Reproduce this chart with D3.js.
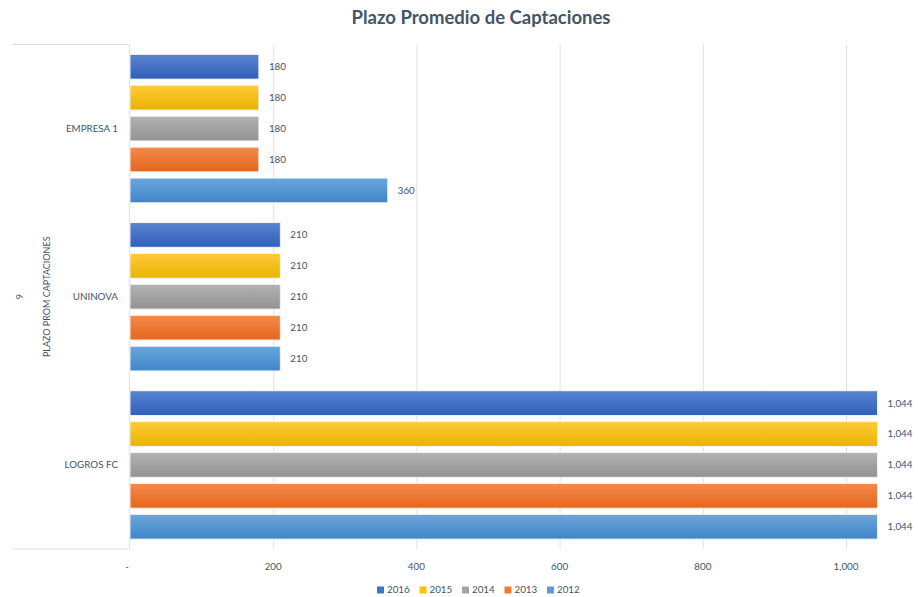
<!DOCTYPE html>
<html><head><meta charset="utf-8">
<script src="https://cdn.jsdelivr.net/npm/d3@7/dist/d3.min.js"></script>
<style>body{margin:0;background:#fff}svg{display:block}text{font-family:Lato,"Open Sans",sans-serif}</style>
</head><body>
<script>
const categories = ["EMPRESA 1", "UNINOVA", "LOGROS FC"];
const series = ["2016", "2015", "2014", "2013", "2012"];
const values = {
  "2016": [180, 210, 1044],
  "2015": [180, 210, 1044],
  "2014": [180, 210, 1044],
  "2013": [180, 210, 1044],
  "2012": [360, 210, 1044]
};
const xTicks = [0, 200, 400, 600, 800, 1000];
const title = "Plazo Promedio de Captaciones";
const outerLabel = "PLAZO PROM CAPTACIONES";
const outerLabel2 = "9";

const colors = {
  "2016": ["#5a83d3", "#2f5fb9"],
  "2015": ["#ffc93a", "#e8b400"],
  "2014": ["#b2b2b2", "#929292"],
  "2013": ["#f48a4c", "#e5661c"],
  "2012": ["#6aa6de", "#4185c8"]
};
const legendColors = {"2016":"#4472C4","2015":"#FFC000","2014":"#A5A5A5","2013":"#ED7D31","2012":"#5B9BD5"};

const W = 918, H = 597;
const svg = d3.select("body").append("svg").attr("width", W).attr("height", H);
const defs = svg.append("defs");
series.forEach(s => {
  const g = defs.append("linearGradient").attr("id", "g" + s).attr("x1", 0).attr("y1", 0).attr("x2", 0).attr("y2", 1);
  g.append("stop").attr("offset", "0%").attr("stop-color", colors[s][0]);
  g.append("stop").attr("offset", "100%").attr("stop-color", colors[s][1]);
});

const pTop = 44.5, pBottom = 549, pLeft = 130;
const x = d3.scaleLinear().domain([0, 1000]).range([pLeft, 846]);
const y0 = d3.scaleBand().domain(categories).range([pTop, pBottom]);
const y1 = d3.scaleBand().domain(series).range([0, y0.bandwidth()]).paddingInner(0.2).paddingOuter(0.32);

// gridlines
svg.append("g").selectAll("line").data(xTicks.slice(1)).join("line")
  .attr("x1", d => x(d) + 0.5).attr("x2", d => x(d) + 0.5)
  .attr("y1", pTop).attr("y2", pBottom)
  .attr("stroke", "#dde1ea").attr("stroke-width", 1);

// category axis frame
svg.append("line").attr("x1", 12).attr("x2", pLeft).attr("y1", pTop).attr("y2", pTop).attr("stroke", "#dde1ea");
svg.append("line").attr("x1", 12).attr("x2", pLeft).attr("y1", pBottom).attr("y2", pBottom).attr("stroke", "#dde1ea");
svg.append("line").attr("x1", pLeft - 0.5).attr("x2", pLeft - 0.5).attr("y1", pTop).attr("y2", pBottom).attr("stroke", "#dde1ea");

// bars
const grp = svg.append("g").selectAll("g").data(categories).join("g")
  .attr("transform", d => `translate(0,${y0(d)})`);
grp.selectAll("rect").data((c, ci) => series.map(s => ({s, v: values[s][ci]}))).join("rect")
  .attr("x", x(0)).attr("y", d => y1(d.s))
  .attr("width", d => x(d.v) - x(0)).attr("height", y1.bandwidth())
  .attr("fill", d => `url(#g${d.s})`)
  .attr("stroke", "#f2f2f2").attr("stroke-width", 1);

const fmt = d3.format(",");
grp.selectAll("text").data((c, ci) => series.map(s => ({s, v: values[s][ci]}))).join("text")
  .attr("x", d => x(d.v) + 10).attr("y", d => y1(d.s) + y1.bandwidth() / 2)
  .attr("dy", "0.35em").attr("font-size", 9.8).attr("fill", "#44546A")
  .text(d => fmt(d.v));

// category labels
svg.append("g").selectAll("text").data(categories).join("text")
  .attr("x", 118).attr("y", d => y0(d) + y0.bandwidth() / 2)
  .attr("dy", "0.35em").attr("text-anchor", "end")
  .attr("font-size", 9.8).attr("fill", "#44546A").text(d => d);

// outer labels (rotated)
const midY = (pTop + pBottom) / 2;
svg.append("text").attr("transform", `translate(47,${midY}) rotate(-90)`)
  .attr("text-anchor", "middle").attr("dy", "0.35em")
  .attr("font-size", 9).attr("fill", "#44546A").text(outerLabel);
svg.append("text").attr("transform", `translate(20,${midY}) rotate(-90)`)
  .attr("text-anchor", "middle").attr("dy", "0.35em")
  .attr("font-size", 9).attr("fill", "#44546A").text(outerLabel2);

// x axis labels
svg.append("g").selectAll("text").data(xTicks).join("text")
  .attr("x", d => d === 0 ? x(d) - 3 : x(d)).attr("y", 567).attr("dy", "0.35em")
  .attr("text-anchor", "middle").attr("font-size", 9.8).attr("fill", "#44546A")
  .text(d => d === 0 ? "-" : fmt(d));

// title
svg.append("text").attr("x", 481).attr("y", 18).attr("dy", "0.35em")
  .attr("text-anchor", "middle").attr("font-size", 18.5).attr("font-weight", "bold")
  .attr("fill", "#44546A").text(title);

// legend
const leg = svg.append("g").attr("transform", "translate(377,590)");
const li = leg.selectAll("g").data(series).join("g").attr("transform", (d, i) => `translate(${i * 42.5},0)`);
li.append("rect").attr("x", 0).attr("y", -3.5).attr("width", 7).attr("height", 7).attr("fill", d => legendColors[d]);
li.append("text").attr("x", 10).attr("y", 0).attr("dy", "0.35em").attr("font-size", 9.8).attr("fill", "#44546A").text(d => d);
</script>
</body></html>
